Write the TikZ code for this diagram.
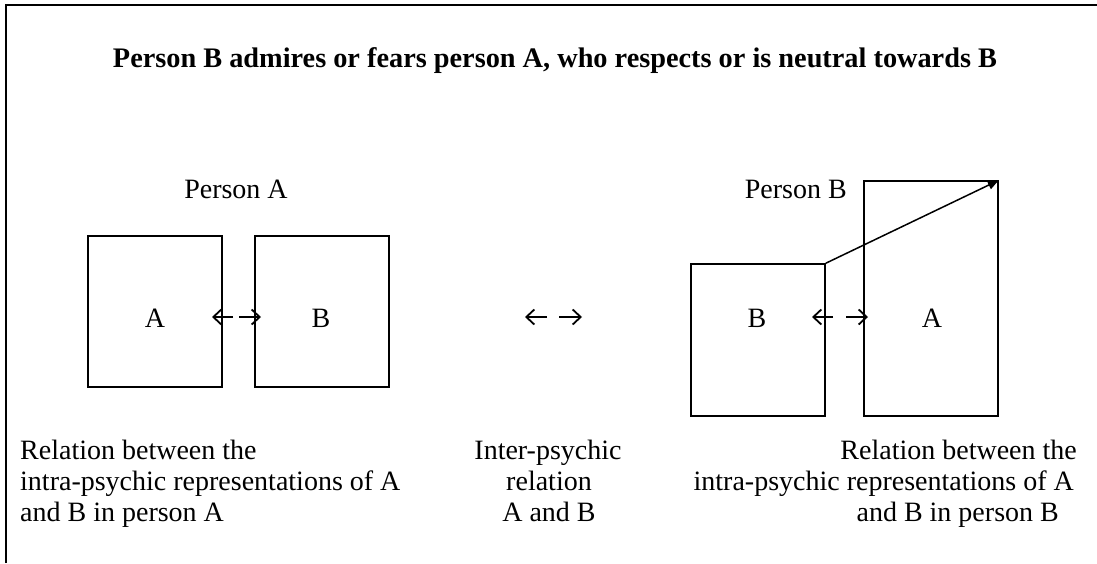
\documentclass[tikz,border=0pt]{standalone}
\usepackage{fontspec}
\setmainfont{Liberation Serif}
\usetikzlibrary{arrows.meta}
\begin{document}
\begin{tikzpicture}[x=1pt,y=-1pt,
  txt/.style={inner sep=0pt,font=\fontsize{28}{32}\selectfont},
  boxed/.style={draw,line width=1.5pt,inner sep=0pt},
  barb/.style={line width=1.8pt,-{Straight Barb[length=8pt,width=15pt,line width=1.8pt]}}]
\useasboundingbox (0,0) rectangle (1097,563);
% frame
\draw[line width=2pt] (6,563) -- (6,5) -- (1097,5);
% title
\node[txt,font=\fontsize{28.3}{32}\selectfont\bfseries,anchor=base] (title) at (555,67) {Person B admires or fears person A, who respects or is neutral towards B};
% person labels
\node[txt,anchor=base] (pa) at (236,198) {Person A};
\node[txt,anchor=base east] (pb) at (847,198) {Person B};
% left boxes
\node[boxed,minimum width=134pt,minimum height=151pt] (la) at (155,311.5) {};
\node[boxed,minimum width=134pt,minimum height=151pt] (lb) at (322,311.5) {};
\node[txt,anchor=base] (lat) at (155,327) {A};
\node[txt,anchor=base] (lbt) at (321,327) {B};
% right boxes
\node[boxed,minimum width=134pt,minimum height=152pt] (rb) at (758,340) {};
\node[boxed,minimum width=134pt,minimum height=235pt] (ra) at (931,298.5) {};
\node[txt,anchor=base] (rbt) at (757,327) {B};
\node[txt,anchor=base] (rat) at (932,327) {A};
\draw[line width=1.5pt,-{Triangle[length=11pt,width=9pt]}] (rb.north east) -- (ra.north east);
% double arrows
\coordinate (l1) at (233,317); \coordinate (l1t) at (212,317);
\coordinate (l2) at (239,317); \coordinate (l2t) at (261,317);
\draw[barb] (l1) -- (l1t);
\draw[barb] (l2) -- (l2t);
\coordinate (m1) at (547,317); \coordinate (m1t) at (525,317);
\coordinate (m2) at (559,317); \coordinate (m2t) at (582,317);
\draw[barb] (m1) -- (m1t);
\draw[barb] (m2) -- (m2t);
\coordinate (r1) at (833,317); \coordinate (r1t) at (812,317);
\coordinate (r2) at (846,317); \coordinate (r2t) at (868,317);
\draw[barb] (r1) -- (r1t);
\draw[barb] (r2) -- (r2t);
% bottom texts
\node[txt,anchor=base west] (t1) at (20,459) {Relation between the};
\node[txt,anchor=base west] (t2) at (20,490) {intra-psychic representations of A};
\node[txt,anchor=base west] (t3) at (20,521) {and B in person A};
\node[txt,anchor=base] (m1x) at (548,459) {Inter-psychic};
\node[txt,anchor=base] (m2x) at (549,490) {relation};
\node[txt,anchor=base] (m3x) at (549,521) {A and B};
\node[txt,anchor=base east] (r1x) at (1077,459) {Relation between the};
\node[txt,anchor=base east] (r2x) at (1074,490) {intra-psychic representations of A};
\node[txt,anchor=base east] (r3x) at (1059,521) {and B in person B};
\end{tikzpicture}
\end{document}
